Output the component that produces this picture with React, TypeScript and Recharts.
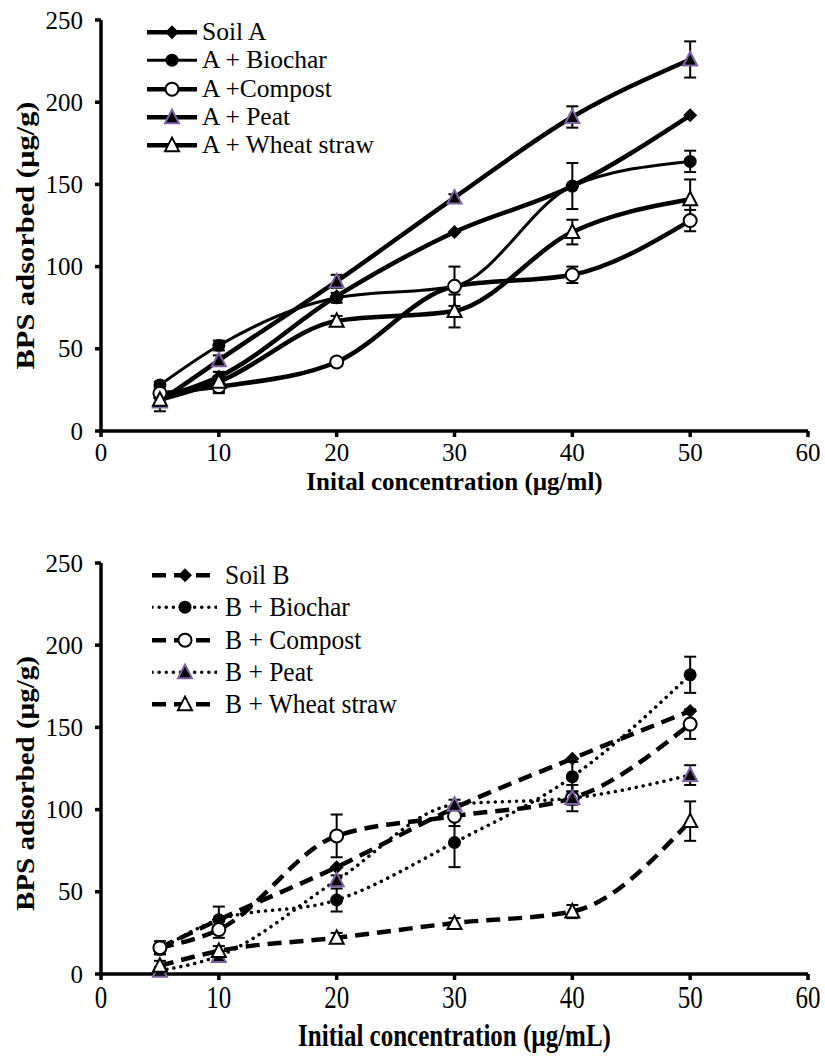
import React from 'react';
import { LineChart, Line, XAxis, YAxis, ErrorBar, Legend, Label } from 'recharts';

// ---------- data ----------
const concentrations = [5, 10, 20, 30, 40, 50];
const xTicks = [0, 10, 20, 30, 40, 50, 60];
const yTicks = [0, 50, 100, 150, 200, 250];

const namesA = ['Soil A', 'A + Biochar', 'A +Compost', 'A + Peat', 'A + Wheat straw'];
const soilA = [20, 33, 82, 121, 149, 192];
const biocharA = [28, 52, 81, 88, 149, 164];
const compostA = [23, 27, 42, 88, 95, 128];
const peatA = [18, 43, 91, 142, 191, 226];
const wheatA = [19, 30, 67, 73, 121, 141];
const errSoilA = [0, 0, 0, 0, 0, 0];
const errBiocharA = [2, 3, 3, 0, 14, 6.5];
const errCompostA = [3, 4, 2.5, 12, 5, 6.5];
const errPeatA = [3, 3, 4, 2, 6.5, 11];
const errWheatA = [7, 6, 3, 10, 7.5, 12];

const namesB = ['Soil B', 'B + Biochar', 'B + Compost', 'B + Peat', 'B + Wheat straw'];
const soilB = [16, 33, 65, 101, 131, 160];
const biocharB = [15, 33, 45, 80, 120, 182];
const compostB = [16, 27, 84, 96, 107, 152];
const peatB = [2, 11, 57, 103, 107, 121];
const wheatB = [5, 14, 22, 31, 38, 93];
const errSoilB = [0, 0, 0, 0, 0, 0];
const errBiocharB = [3, 8, 7, 15, 9, 11];
const errCompostB = [4, 5, 13, 6, 8, 9];
const errPeatB = [2, 3, 3, 3, 4, 6];
const errWheatB = [3, 3, 3, 3, 4, 12];

const xTitleA = 'Inital concentration (µg/ml)';
const xTitleB = 'Initial concentration (µg/mL)';
const yTitle = 'BPS adsorbed (µg/g)';

// ---------- helpers ----------
const FONT = "'Liberation Serif', 'Times New Roman', serif";
const PURPLE = '#7F62A3';

type Kind = 'diamond' | 'circle' | 'openCircle' | 'peat' | 'openTri';
const kinds: Kind[] = ['diamond', 'circle', 'openCircle', 'peat', 'openTri'];

function Marker({ kind, cx, cy }: { kind: Kind; cx: number; cy: number }) {
  if (cx == null || cy == null) return null;
  switch (kind) {
    case 'diamond':
      return <polygon points={`${cx},${cy - 7} ${cx + 7},${cy} ${cx},${cy + 7} ${cx - 7},${cy}`} fill="#000" />;
    case 'circle':
      return <circle cx={cx} cy={cy} r={6.5} fill="#000" />;
    case 'openCircle':
      return <circle cx={cx} cy={cy} r={6.5} fill="#fff" stroke="#000" strokeWidth={2} />;
    case 'peat':
      return <polygon points={`${cx},${cy - 7.5} ${cx + 7},${cy + 6} ${cx - 7},${cy + 6}`} fill="#000" stroke={PURPLE} strokeWidth={2} />;
    case 'openTri':
      return <polygon points={`${cx},${cy - 7.5} ${cx + 7},${cy + 6} ${cx - 7},${cy + 6}`} fill="#fff" stroke="#000" strokeWidth={2} />;
  }
  return null;
}

function buildRows(series: number[][], errs: number[][]) {
  return concentrations.map((x, i) => {
    const row: any = { x };
    series.forEach((s, k) => { row['s' + k] = s[i]; });
    errs.forEach((e, k) => { row['e' + k] = e[i]; });
    return row;
  });
}

const dataA = buildRows([soilA, biocharA, compostA, peatA, wheatA], [errSoilA, errBiocharA, errCompostA, errPeatA, errWheatA]);
const dataB = buildRows([soilB, biocharB, compostB, peatB, wheatB], [errSoilB, errBiocharB, errCompostB, errPeatB, errWheatB]);

type Style = { width: number; dash?: string; cap?: 'round' | 'butt' };
const stylesA: Style[] = [
  { width: 4.5 }, { width: 3 }, { width: 4.5 }, { width: 4.5 }, { width: 4.5 },
];
const stylesB: Style[] = [
  { width: 4.5, dash: '14 8' },
  { width: 3.5, dash: '0.1 7', cap: 'round' },
  { width: 4.5, dash: '14 8' },
  { width: 3.5, dash: '0.1 7', cap: 'round' },
  { width: 4.5, dash: '14 8' },
];
const hasErr = [false, true, true, true, true];

function LegendBox({ names, styles, lineLen, markerX, rowH, gap, stretch }: any) {
  return (
    <div style={{ fontFamily: FONT, color: '#000' }}>
      {names.map((n: string, i: number) => (
        <div key={n} style={{ display: 'flex', alignItems: 'center', height: rowH }}>
          <svg width={lineLen} height={rowH} style={{ display: 'block' }}>
            <line x1={0} x2={lineLen} y1={rowH / 2} y2={rowH / 2} stroke="#000" strokeWidth={styles[i].width}
              strokeDasharray={styles[i].dash} strokeLinecap={styles[i].cap || 'butt'} />
            <Marker kind={kinds[i]} cx={markerX} cy={rowH / 2} />
          </svg>
          <span style={{ marginLeft: gap, fontSize: 25.5, lineHeight: `${rowH}px`, whiteSpace: 'nowrap', display: 'inline-block', transform: `scaleY(${stretch})` }}>{n}</span>
        </div>
      ))}
    </div>
  );
}

function makeYTitle(len: number, off: number) {
  return function YTitle(props: any) {
    const vb = props.viewBox || { x: 0, y: 0, width: 0, height: 0 };
    const cy = vb.y + vb.height / 2 + off;
    return (
      <text transform={`translate(${vb.x + 4}, ${cy}) rotate(-90)`} textAnchor="middle" dominantBaseline="central"
        style={{ fontFamily: FONT, fontWeight: 'bold', fontSize: 25 }} fill="#000" textLength={len} lengthAdjust="spacingAndGlyphs">
        {yTitle}
      </text>
    );
  };
}

function makeXTitle(text: string, dy: number, stretch: number) {
  return function XTitle(props: any) {
    const vb = props.viewBox || { x: 0, y: 0, width: 0, height: 0 };
    const cx = vb.x + vb.width / 2;
    const cy = vb.y + dy;
    return (
      <g transform={`translate(${cx}, ${cy}) scale(1, ${stretch})`}>
        <text textAnchor="middle" dominantBaseline="central" style={{ fontFamily: FONT, fontWeight: 'bold', fontSize: 25 }} fill="#000">
          {text}
        </text>
      </g>
    );
  };
}

function makeXTick(stretch: number) {
  return function XTick(props: any) {
    const { x, y, payload } = props;
    return (
      <g transform={`translate(${x}, ${y}) scale(1, ${stretch})`}>
        <text textAnchor="middle" dy="0.71em" style={{ fontFamily: FONT, fontSize: 25 }} fill="#000">{payload.value}</text>
      </g>
    );
  };
}

function YTick(props: any) {
  const { x, y, payload } = props;
  return (
    <text x={x} y={y} textAnchor="end" dominantBaseline="central" style={{ fontFamily: FONT, fontSize: 25 }} fill="#000">{payload.value}</text>
  );
}

function Panel({ data, names, styles, height, mTop, mBottom, xTitle, xTitleDy, stretch, legendStretch, legendTop, legendLeft, lineLen, markerX, rowH, gap, yLen, yOff }: any) {
  return (
    <LineChart width={825} height={height} data={data} margin={{ top: mTop, right: 17, bottom: mBottom, left: 21 }}>
      <XAxis dataKey="x" type="number" domain={[0, 60]} ticks={xTicks} interval={0} height={60}
        axisLine={{ stroke: '#000', strokeWidth: 3.5 }} tickLine={{ stroke: '#000', strokeWidth: 3.5 }} tickSize={6} tickMargin={6}
        tick={makeXTick(stretch)}>
        <Label content={makeXTitle(xTitle, xTitleDy, stretch)} />
      </XAxis>
      <YAxis type="number" domain={[0, 250]} ticks={yTicks} interval={0} width={80}
        axisLine={{ stroke: '#000', strokeWidth: 3.5 }} tickLine={{ stroke: '#000', strokeWidth: 3.5 }} tickSize={6} tickMargin={12}
        tick={YTick}>
        <Label content={makeYTitle(yLen, yOff)} />
      </YAxis>
      <Legend layout="vertical" verticalAlign="middle" align="center"
        wrapperStyle={{ left: legendLeft, top: legendTop, width: 340 }}
        content={() => <LegendBox names={names} styles={styles} lineLen={lineLen} markerX={markerX} rowH={rowH} gap={gap} stretch={legendStretch} />} />
      {names.map((n: string, k: number) => (
        <Line key={n} name={n} dataKey={'s' + k} type="monotone" stroke="#000" strokeWidth={styles[k].width}
          strokeDasharray={styles[k].dash} strokeLinecap={styles[k].cap || 'butt'}
          isAnimationActive={false} activeDot={false}
          dot={(p: any) => <Marker key={'m' + k + '-' + p.index} kind={kinds[k]} cx={p.cx} cy={p.cy} />}>
          {hasErr[k] ? <ErrorBar dataKey={'e' + k} width={6} stroke="#000" strokeWidth={2} direction="y" isAnimationActive={false} /> : null}
        </Line>
      ))}
    </LineChart>
  );
}

export default function App() {
  return (
    <div style={{ position: 'absolute', left: 0, top: 0, width: 825, height: 1057, background: '#fff' }}>
      <div style={{ position: 'absolute', left: 0, top: 0 }}>
        <Panel data={dataA} names={namesA} styles={stylesA} height={540} mTop={20} mBottom={49}
          xTitle={xTitleA} xTitleDy={50} stretch={1} legendStretch={1} legendTop={18} legendLeft={147}
          lineLen={50} markerX={25} rowH={28.3} gap={5} yLen={268} yOff={10} />
      </div>
      <div style={{ position: 'absolute', left: 0, top: 540 }}>
        <Panel data={dataB} names={namesB} styles={stylesB} height={517} mTop={23} mBottom={23}
          xTitle={xTitleB} xTitleDy={62} stretch={1.25} legendStretch={1.1} legendTop={19} legendLeft={152}
          lineLen={65} markerX={33} rowH={32.3} gap={8} yLen={255} yOff={15} />
      </div>
    </div>
  );
}
